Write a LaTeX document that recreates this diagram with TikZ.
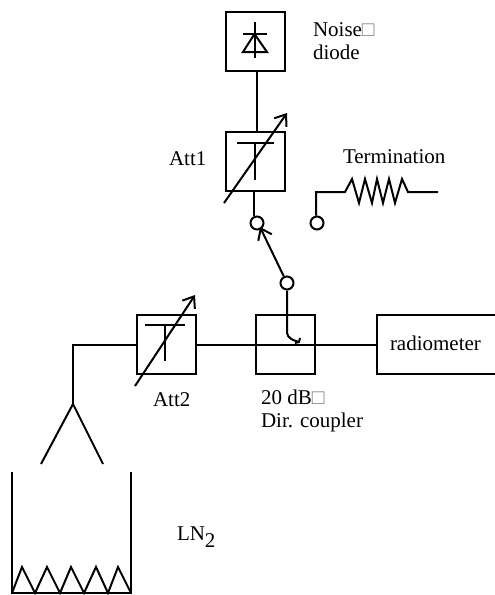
\documentclass[tikz,border=0pt]{standalone}
\usepackage{fontspec}
\setmainfont{Liberation Serif}
\usetikzlibrary{arrows.meta}
\def\boxsize{59pt}
\begin{document}
\begin{tikzpicture}[x=1pt, y=-1pt, line width=2pt]
                \useasboundingbox (0, 0) rectangle (495, 595);
                \tikzstyle{unit}  = [rectangle, draw, minimum width=\boxsize, minimum height=\boxsize, inner sep=0pt]
                \tikzstyle{port}  = [circle, draw, minimum width=13pt, inner sep=0pt, fill=white]
                \tikzstyle{lbl}   = [anchor=base west, inner sep=0pt, font=\fontsize{21}{23}\selectfont, align=left]
                \tikzstyle{barb}  = [-{Straight Barb[length=10pt, width=15pt]}]

                % boxes
                \node [unit](noise) at (255, 41.5) {};
                \node [unit](att1) at (255, 161) {};
                \node [unit](att2) at (166, 344.5) {};
                \node [unit](coupler) at (285, 344.5) {};
                \node [unit, minimum width=124pt](radio) at (439, 344.5) {};

                % switch contacts
                \node [port](sw) at (257, 223) {};
                \node [port](sw2) at (317, 223) {};
                \node [port](sw3) at (287, 283) {};

                % diode
                \coordinate (d1) at (254.5, 22);
                \coordinate (d2) at (254.5, 58);
                \coordinate (dl) at (243, 34);
                \coordinate (dr) at (267, 34);
                \coordinate (tl) at (243, 52);
                \coordinate (tr) at (267, 52);
                \draw (d1) -- (d2);
                \draw (dl) -- (dr);
                \draw (dl -| d1) -- (tr) -- (tl) -- cycle;
                \draw ([xshift=1.5pt]noise.south) -- ([xshift=1.5pt]att1.north);

                % Att1
                \coordinate (a1l) at (237, 143);
                \coordinate (a1r) at (274, 143);
                \coordinate (a1t) at (255, 143);
                \coordinate (a1b) at (255, 180);
                \coordinate (a1s) at (224, 203);
                \coordinate (a1e) at (287, 113);
                \draw (a1l) -- (a1r);
                \draw (a1t) -- (a1b);
                \draw [barb] (a1s) -- (a1e);
                \draw ([xshift=-1pt]att1.south) -- (sw.north -| 254, 0);

                % termination
                \coordinate (c1) at (316, 192);
                \coordinate (r1) at (345, 192);
                \coordinate (r2) at (408, 192);
                \coordinate (r3) at (438, 192);
                \draw (sw2.north -| c1) -- (c1) -- (r1) -- (352, 179) -- (359, 203) -- (365, 179) -- (372, 203) -- (377, 179) -- (383, 203) -- (389, 179) -- (395, 203) -- (402, 179) -- (r2) -- (r3);

                % switch
                \coordinate (swtip) at (260, 227);
                \draw [barb] (sw3) -- (swtip);
                \draw (sw3.south) -- (287, 333) .. controls (288, 338) and (292, 340) .. (299, 342);
                \draw (295, 343) -- (299, 342) -- (300, 338);

                % Att2
                \coordinate (a2l) at (145, 325);
                \coordinate (a2r) at (185, 325);
                \coordinate (a2t) at (165, 325);
                \coordinate (a2b) at (165, 361);
                \coordinate (a2s) at (135, 386);
                \coordinate (a2e) at (195, 295);
                \draw (a2l) -- (a2r);
                \draw (a2t) -- (a2b);
                \draw [barb] (a2s) -- (a2e);

                % main line
                \coordinate (bend) at (73, 344.5);
                \coordinate (horn) at (73, 404);
                \coordinate (hl) at (41, 464);
                \coordinate (hr) at (103, 464);
                \draw (att2.west) -- (bend) -- (horn);
                \draw (hl) -- (horn) -- (hr);
                \draw (att2.east) -- (radio.west);

                % dewar
                \coordinate (v1) at (12, 472);
                \coordinate (v2) at (12, 593);
                \coordinate (v3) at (131, 593);
                \coordinate (v4) at (131, 472);
                \draw (v1) -- (v2) -- (v3) -- (v4);
                \draw (v2) -- (22, 567) -- (35, 593) -- (47, 567) -- (60, 593) -- (71, 567) -- (84, 593) -- (96, 567) -- (108, 593) -- (118, 567) -- (v3);

                % labels
                \node [lbl](noisetxt) at (312, 59) {Noise{\color{gray}□}\\diode};
                \node [lbl](att1txt) at (168, 165) {Att1};
                \node [lbl](termtxt) at (342, 163) {Termination};
                \node [lbl](radiotxt) at (389, 350) {radiometer};
                \node [lbl](att2txt) at (152, 406) {Att2};
                \node [lbl](couptxt) at (260, 427) {20 dB{\color{gray}□}\\Dir. coupler};
                \node [lbl](lntxt) at (176, 540) {LN\raisebox{-7pt}{2}};
\end{tikzpicture}
\end{document}
